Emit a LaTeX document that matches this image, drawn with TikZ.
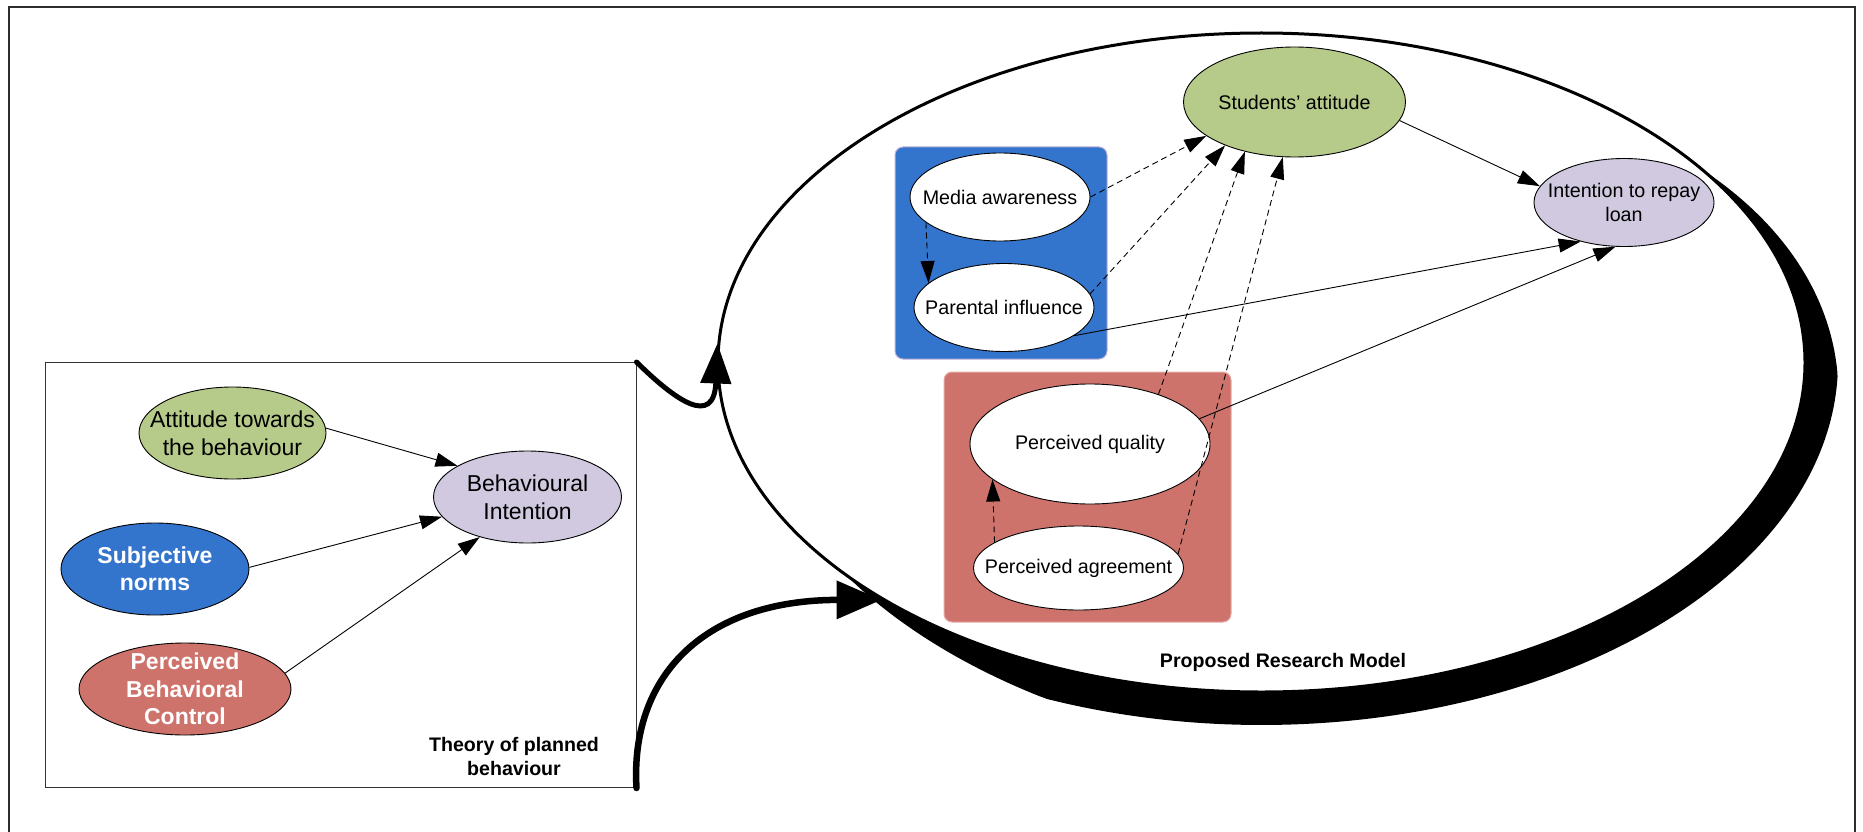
\documentclass[tikz,border=0pt]{standalone}
\usepackage{fontspec}
\setmainfont{Liberation Sans}
\usetikzlibrary{shapes.geometric,arrows.meta}
\definecolor{attgreen}{RGB}{182,202,137}
\definecolor{intlav}{RGB}{208,201,223}
\definecolor{normblue}{RGB}{51,117,205}
\definecolor{ctrlred}{RGB}{206,115,108}
\definecolor{blueedge}{RGB}{190,175,215}
\definecolor{rededge}{RGB}{232,170,165}
\definecolor{framegray}{RGB}{45,45,45}
\begin{document}
\begin{tikzpicture}[x=1pt,y=-1pt,
  oval/.style={ellipse,draw=black,line width=0.9pt,inner sep=0pt},
  bigtext/.style={font=\fontsize{23}{28}\selectfont,align=center},
  boldbig/.style={font=\fontsize{23}{27.5}\selectfont\bfseries,align=center,text=white},
  smalltext/.style={font=\fontsize{19.7}{23.3}\selectfont,align=center},
  tagtext/.style={font=\fontsize{19.6}{24}\selectfont\bfseries,align=center,inner sep=0pt},
  conn/.style={line width=0.9pt,-{Triangle[length=22pt,width=14pt]}},
  dconn/.style={conn,dash pattern=on 6pt off 4pt},
  groupbox/.style={rounded corners=8pt,line width=1pt,inner sep=0pt}]
\useasboundingbox (0,0) rectangle (1863,832);

% page frame (open at the bottom)
\draw[framegray,line width=2pt] (9,832) -- (9,7) -- (1855,7) -- (1855,832);

% ---------- Theory of planned behaviour ----------
\node[draw=black!80,line width=1pt,minimum width=591pt,minimum height=425pt,inner sep=0pt]
  (tpbbox) at (340.5,575) {};
\node[oval,fill=attgreen,minimum width=187pt,minimum height=92pt,
  label={[bigtext]center:{Attitude towards\\the behaviour}}] (att) at (232.5,433) {};
\node[oval,fill=intlav,minimum width=188pt,minimum height=92pt,
  label={[bigtext]center:{Behavioural\\Intention}}] (bi) at (527.5,497) {};
\node[oval,fill=normblue,minimum width=188pt,minimum height=92pt,
  label={[boldbig]center:{Subjective\\norms}}] (sn) at (155,569) {};
\node[oval,fill=ctrlred,minimum width=212pt,minimum height=92pt,
  label={[boldbig]center:{Perceived\\Behavioral\\Control}}] (pbc) at (185,689) {};
\node[tagtext] (tpblabel) at (514,756) {Theory of planned\\behaviour};

\draw[conn] (att.3) -- (bi.156.3);
\draw[conn] (sn.1) -- (bi.193);
\draw[conn] (pbc.9) -- (bi.220);

% ---------- Proposed research model ----------
\pgfmathsetmacro{\ecx}{1261.5}
\pgfmathsetmacro{\ecy}{362.5}
\pgfmathsetmacro{\erx}{543.5}
\pgfmathsetmacro{\ery}{329.5}
\node[ellipse,draw=black,line width=3pt,fill=white,inner sep=0pt,
  minimum width=1087pt,minimum height=659pt] (rm) at (\ecx,\ecy) {};
% crescent along the lower right of the model outline
\fill[black] plot[domain=-36:140,samples=176,variable=\t]
  ({\ecx+(\erx+33*min(1,(\t+36)/38,(140-\t)/28))*cos(\t)},
   {\ecy+(\ery+33*min(1,(\t+36)/38,(140-\t)/28))*sin(\t)})
  -- plot[domain=140:-36,samples=176,variable=\t]
  ({\ecx+\erx*cos(\t)},{\ecy+\ery*sin(\t)}) -- cycle;

\node[groupbox,draw=blueedge,fill=normblue,minimum width=212pt,minimum height=212pt]
  (mediabox) at (1001,253) {};
\node[groupbox,draw=rededge,fill=ctrlred,minimum width=287pt,minimum height=250pt]
  (qualbox) at (1087.5,497) {};

\node[oval,fill=attgreen,minimum width=222pt,minimum height=110pt,
  label={[smalltext]center:{Students’ attitude}}] (sa) at (1294.5,102) {};
\node[oval,fill=intlav,minimum width=180pt,minimum height=88pt,
  label={[smalltext]center:{Intention to repay\\loan}}] (irl) at (1624,202.5) {};
\node[oval,fill=white,minimum width=180pt,minimum height=88pt,
  label={[smalltext]center:{Media awareness}}] (ma) at (1000,197) {};
\node[oval,fill=white,minimum width=180pt,minimum height=88pt,
  label={[smalltext]center:{Parental influence}}] (pi) at (1004,307.5) {};
\node[oval,fill=white,minimum width=240pt,minimum height=120pt,
  label={[smalltext]center:{Perceived quality}}] (pq) at (1090,444) {};
\node[oval,fill=white,minimum width=210pt,minimum height=84pt,
  label={[smalltext]center:{Perceived agreement}}] (pa) at (1078.5,568) {};
\node[tagtext] (rmlabel) at (1283,662) {Proposed Research Model};

\draw[conn] (sa.-10.7) -- (irl.169.5);
\draw[dconn] (ma.0) -- (sa.201);
\draw[dconn] (ma.199.7) -- (pi.162.3);
\draw[dconn] (pi.9.5) -- (sa.212.9);
\draw[dconn] (pq.36.5) -- (sa.225.3);
\draw[dconn] (pa.8.4) -- (sa.258.7);
\draw[dconn] (pa.163.9) -- (pq.200.4);
\draw[conn] (pi.-22) -- (irl.222.4);
\draw[conn] (pq.13.9) -- (irl.259.2);

% ---------- links from the theory to the model ----------
\draw[line width=5pt,line cap=round,-{Triangle[length=40pt,width=30pt]}]
  (tpbbox.north east) .. controls (675,400) and (714,428) .. (rm.178.7);
\draw[line width=6.5pt,line cap=round,-{Triangle[length=45pt,width=37pt]}]
  (tpbbox.south east) .. controls (630,680) and (700,600) .. (rm.212.6);
\end{tikzpicture}
\end{document}
